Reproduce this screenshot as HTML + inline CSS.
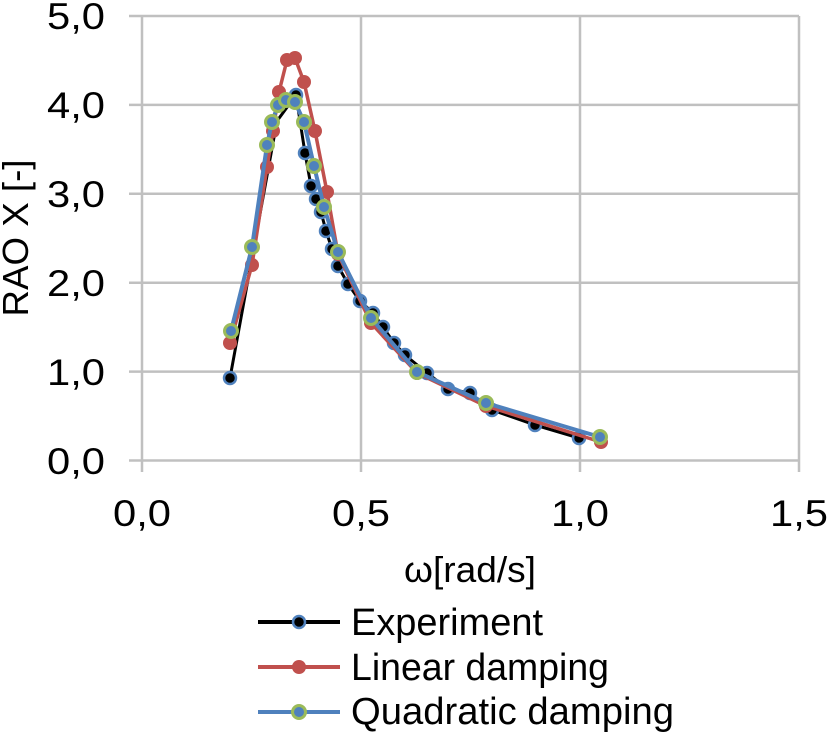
<!DOCTYPE html>
<html>
<head>
<meta charset="utf-8">
<style>
  html,body{margin:0;padding:0;background:#fff;}
  svg{display:block;}
  text{font-family:"Liberation Sans", Arial, sans-serif;fill:#000;}
</style>
</head>
<body>
<svg width="828" height="732" viewBox="0 0 828 732" xmlns="http://www.w3.org/2000/svg">
  <rect width="828" height="732" fill="#fff"/>
  <!-- gridlines -->
  <g stroke="#c0c0c0" stroke-width="2.5" fill="none">
    <line x1="129" y1="16" x2="799" y2="16"/>
    <line x1="129" y1="104.9" x2="799" y2="104.9"/>
    <line x1="129" y1="193.8" x2="799" y2="193.8"/>
    <line x1="129" y1="282.7" x2="799" y2="282.7"/>
    <line x1="129" y1="371.6" x2="799" y2="371.6"/>
    <line x1="129" y1="460.5" x2="799" y2="460.5"/>
    <line x1="142" y1="16" x2="142" y2="472"/>
    <line x1="361" y1="16" x2="361" y2="472"/>
    <line x1="580" y1="16" x2="580" y2="472"/>
    <line x1="799" y1="16" x2="799" y2="472"/>
  </g>
  <!-- y tick labels -->
  <g font-size="37" text-anchor="end">
    <text x="105" y="29" textLength="58" lengthAdjust="spacingAndGlyphs">5,0</text>
    <text x="105" y="118" textLength="58" lengthAdjust="spacingAndGlyphs">4,0</text>
    <text x="105" y="207" textLength="58" lengthAdjust="spacingAndGlyphs">3,0</text>
    <text x="105" y="296" textLength="58" lengthAdjust="spacingAndGlyphs">2,0</text>
    <text x="105" y="385" textLength="58" lengthAdjust="spacingAndGlyphs">1,0</text>
    <text x="105" y="474" textLength="58" lengthAdjust="spacingAndGlyphs">0,0</text>
  </g>
  <!-- x tick labels -->
  <g font-size="37">
    <text x="113" y="526" textLength="58" lengthAdjust="spacingAndGlyphs">0,0</text>
    <text x="332" y="526" textLength="58" lengthAdjust="spacingAndGlyphs">0,5</text>
    <text x="551" y="526" textLength="58" lengthAdjust="spacingAndGlyphs">1,0</text>
    <text x="770" y="526" textLength="58" lengthAdjust="spacingAndGlyphs">1,5</text>
  </g>
  <!-- axis titles -->
  <text x="404" y="582" font-size="36" textLength="132" lengthAdjust="spacingAndGlyphs">ω[rad/s]</text>
  <text transform="translate(28,238) rotate(-90)" font-size="36" text-anchor="middle" textLength="157" lengthAdjust="spacingAndGlyphs">RAO X [-]</text>

  <!-- Experiment -->
  <polyline fill="none" stroke="#000" stroke-width="3" stroke-linejoin="round"
    points="230,378 277,121 296,95 305,153 311,186 316,199 321,212 326,231 332,249 338,266 348,284 360,301 373,313 383,327 394,343 405,355 427,373 448,389 470,393 492,410 535,425 579,438"/>
  <g fill="#000" stroke="#4f81bd" stroke-width="2.5">
    <circle cx="230" cy="378" r="6"/><circle cx="296" cy="95" r="6"/>
    <circle cx="305" cy="153" r="6"/><circle cx="311" cy="186" r="6"/>
    <circle cx="316" cy="199" r="6"/><circle cx="321" cy="212" r="6"/>
    <circle cx="326" cy="231" r="6"/><circle cx="332" cy="249" r="6"/>
    <circle cx="338" cy="266" r="6"/><circle cx="348" cy="284" r="6"/>
    <circle cx="360" cy="301" r="6"/><circle cx="373" cy="313" r="6"/>
    <circle cx="383" cy="327" r="6"/><circle cx="394" cy="343" r="6"/>
    <circle cx="405" cy="355" r="6"/><circle cx="427" cy="373" r="6"/>
    <circle cx="448" cy="389" r="6"/><circle cx="470" cy="393" r="6"/>
    <circle cx="492" cy="410" r="6"/><circle cx="535" cy="425" r="6"/>
    <circle cx="579" cy="438" r="6"/>
  </g>

  <!-- Linear damping -->
  <polyline fill="none" stroke="#c0504d" stroke-width="3.5" stroke-linejoin="round"
    points="230,343 252,265 267,167 273,131 279,92 287,60 295,58 304,82 315,131 327,192 338,254 371,323 417,373 486,406 601,442"/>
  <g fill="#c0504d">
    <circle cx="230" cy="343" r="7"/><circle cx="252" cy="265" r="7"/>
    <circle cx="267" cy="167" r="7"/><circle cx="273" cy="131" r="7"/>
    <circle cx="279" cy="92" r="7"/><circle cx="287" cy="60" r="7"/>
    <circle cx="295" cy="58" r="7"/><circle cx="304" cy="82" r="7"/>
    <circle cx="315" cy="131" r="7"/><circle cx="327" cy="192" r="7"/>
    <circle cx="338" cy="254" r="7"/><circle cx="371" cy="323" r="7"/>
    <circle cx="417" cy="373" r="7"/><circle cx="486" cy="406" r="7"/>
    <circle cx="601" cy="442" r="7"/>
  </g>

  <!-- Quadratic damping -->
  <polyline fill="none" stroke="#4f81bd" stroke-width="4" stroke-linejoin="round"
    points="231,331 252,247 267,145 272,122 278,105 286,100 295,102 304,122 314,166 324,207 338,252 371,318 417,372 486,403 600,437"/>
  <g fill="#4f81bd" stroke="#9bbb59" stroke-width="3">
    <circle cx="231" cy="331" r="6.5"/><circle cx="252" cy="247" r="6.5"/>
    <circle cx="267" cy="145" r="6.5"/><circle cx="272" cy="122" r="6.5"/>
    <circle cx="278" cy="105" r="6.5"/><circle cx="286" cy="100" r="6.5"/>
    <circle cx="295" cy="102" r="6.5"/><circle cx="304" cy="122" r="6.5"/>
    <circle cx="314" cy="166" r="6.5"/><circle cx="324" cy="207" r="6.5"/>
    <circle cx="338" cy="252" r="6.5"/><circle cx="371" cy="318" r="6.5"/>
    <circle cx="417" cy="372" r="6.5"/><circle cx="486" cy="403" r="6.5"/>
    <circle cx="600" cy="437" r="6.5"/>
  </g>

  <!-- Legend -->
  <line x1="258" y1="622" x2="340" y2="622" stroke="#000" stroke-width="4"/>
  <circle cx="299" cy="622" r="6" fill="#000" stroke="#4f81bd" stroke-width="2.5"/>
  <line x1="258" y1="667" x2="340" y2="667" stroke="#c0504d" stroke-width="4"/>
  <circle cx="299" cy="667" r="7" fill="#c0504d"/>
  <line x1="258" y1="712" x2="340" y2="712" stroke="#4f81bd" stroke-width="4"/>
  <circle cx="299" cy="712" r="6.5" fill="#4f81bd" stroke="#9bbb59" stroke-width="3"/>
  <g font-size="38">
    <text x="351" y="635" textLength="192" lengthAdjust="spacingAndGlyphs">Experiment</text>
    <text x="351" y="680" textLength="258" lengthAdjust="spacingAndGlyphs">Linear damping</text>
    <text x="351" y="724" textLength="323" lengthAdjust="spacingAndGlyphs">Quadratic damping</text>
  </g>
</svg>
</body>
</html>
